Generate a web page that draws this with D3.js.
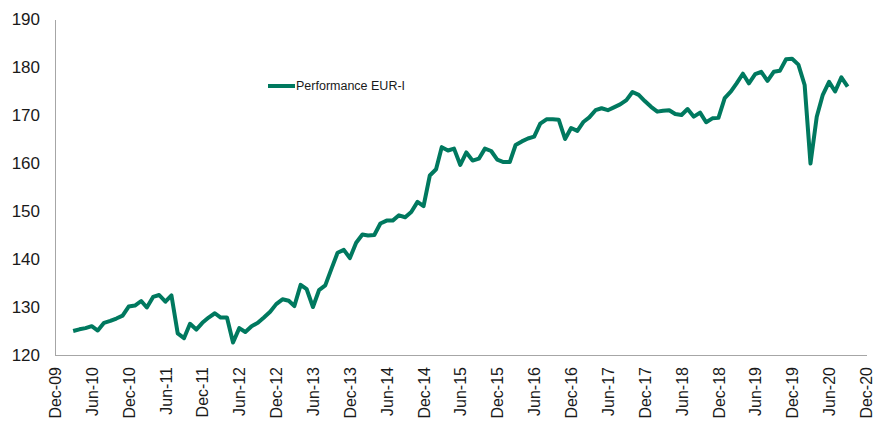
<html lang="en">
    <head>
        <meta charset="utf-8">
        <title>Performance EUR-I</title>
        <style>
			body {
				margin: 0;
				background-color: white;
			}

			.axis path {
				fill: none;
				stroke: #a6a6a6;
				stroke-width: 1.3px;
				shape-rendering: crispEdges;
			}

			.axis text {
				font-family: "Liberation Sans", Arial, sans-serif;
				fill: #1a1a1a;
			}

			.y-axis text {
				font-size: 17px;
			}

			.x-axis text {
				font-size: 16px;
			}

			.legend text {
				font-family: "Liberation Sans", Arial, sans-serif;
				font-size: 12.5px;
				fill: #1a1a1a;
			}
        </style>
    </head>

    <body>
    </body>

    <script type="text/javascript" src="https://cdnjs.cloudflare.com/ajax/libs/d3/7.8.5/d3.min.js"></script>

    <script type="text/javascript">
		// monthly values, Mar-10 .. Sep-20
		var firstMonth = "Mar-10";
		var seriesName = "Performance EUR-I";
		var performance = [
			125.0, 125.35, 125.6, 126.0, 125.1, 126.7, 127.1, 127.6, 128.2, 130.1,
			130.3, 131.25, 129.9, 132.1, 132.5, 131.1, 132.4, 124.5, 123.5, 126.5,
			125.3, 126.7, 127.8, 128.7, 127.8, 127.8, 122.6, 125.6, 124.8, 126.0,
			126.7, 127.8, 129.0, 130.6, 131.6, 131.3, 130.2, 134.6, 133.7, 130.0,
			133.5, 134.5, 138.0, 141.3, 141.9, 140.2, 143.4, 145.1, 144.9, 145.0,
			147.4, 148.0, 148.0, 149.1, 148.7, 149.8, 151.9, 151.0, 157.4, 158.7,
			163.3, 162.6, 163.0, 159.6, 162.2, 160.5, 160.9, 163.0, 162.5, 160.7,
			160.2, 160.2, 163.75, 164.5, 165.1, 165.5, 168.2, 169.1, 169.1, 169.0,
			165.0, 167.3, 166.7, 168.6, 169.5, 171.0, 171.4, 171.0, 171.6, 172.2,
			173.1, 174.8, 174.2, 172.9, 171.7, 170.7, 170.9, 171.0, 170.2, 170.0,
			171.25, 169.65, 170.5, 168.5, 169.3, 169.4, 173.5, 174.9, 176.6, 178.6,
			176.6, 178.5, 179.0, 177.1, 179.0, 179.2, 181.6, 181.7, 180.5, 176.25,
			159.9, 169.65, 174.2, 176.9, 174.9, 177.85, 175.9
		];
		var xTickLabels = ["Dec-09", "Jun-10", "Dec-10", "Jun-11", "Dec-11", "Jun-12", "Dec-12",
			"Jun-13", "Dec-13", "Jun-14", "Dec-14", "Jun-15", "Dec-15", "Jun-16", "Dec-16",
			"Jun-17", "Dec-17", "Jun-18", "Dec-18", "Jun-19", "Dec-19", "Jun-20", "Dec-20"];
		var yTicks = [120, 130, 140, 150, 160, 170, 180, 190];

		var fullWidth = 874;
		var fullHeight = 421;
		var margin = {top: 19, right: 8, bottom: 66, left: 55};

		var width = fullWidth - margin.left - margin.right;
		var height = fullHeight - margin.top - margin.bottom;

		var parseMonth = d3.timeParse("%b-%y");
		var start = parseMonth(firstMonth);
		var data = performance.map(function(v, i) {
			return {date: d3.timeMonth.offset(start, i), value: v};
		});
		var tickDates = xTickLabels.map(parseMonth);

var svg = d3.select("body")
            .append("svg")
            .attr("width", fullWidth)
            .attr("height", fullHeight)
            .append("g")
            .attr("transform", "translate(" + margin.left + "," + margin.top + ")");

var xScale = d3.scaleTime()
               .domain([tickDates[0], tickDates[tickDates.length - 1]])
               .range([0, width]);
var yScale = d3.scaleLinear()
               .domain([120, 190])
               .range([height, 0]);

var xAxis = d3.axisBottom(xScale)
              .tickValues(tickDates)
              .tickFormat(d3.timeFormat("%b-%y"))
              .tickSize(0)
              .tickPadding(0);
var yAxis = d3.axisLeft(yScale)
              .tickValues(yTicks)
              .tickSize(0)
              .tickPadding(15);

  svg.append("g")
     .attr("class", "axis y-axis")
     .call(yAxis);

  svg.append("g")
     .attr("class", "axis x-axis")
     .attr("transform", "translate(0," + height + ")")
     .call(xAxis)
     .selectAll("text")
     .attr("transform", "rotate(-90)")
     .attr("x", -12)
     .attr("y", 0)
     .attr("dy", "0.35em")
     .attr("text-anchor", "end");

  var line = d3.line()
               .x(function(d) { return xScale(d.date); })
               .y(function(d) { return yScale(d.value); });

  svg.append("path")
     .datum(data)
     .attr("fill", "none")
     .attr("stroke", "#00795f")
     .attr("stroke-width", 4)
     .attr("stroke-linejoin", "round")
     .attr("d", line);

  // legend
  var legend = svg.append("g")
                  .attr("class", "legend")
                  .attr("transform", "translate(213,67)");
  legend.append("line")
        .attr("x1", 0).attr("x2", 27)
        .attr("y1", 0).attr("y2", 0)
        .attr("stroke", "#00795f")
        .attr("stroke-width", 4);
  legend.append("text")
        .attr("x", 28)
        .attr("y", 0)
        .attr("dy", "0.35em")
        .text(seriesName);

 </script>

</html>
